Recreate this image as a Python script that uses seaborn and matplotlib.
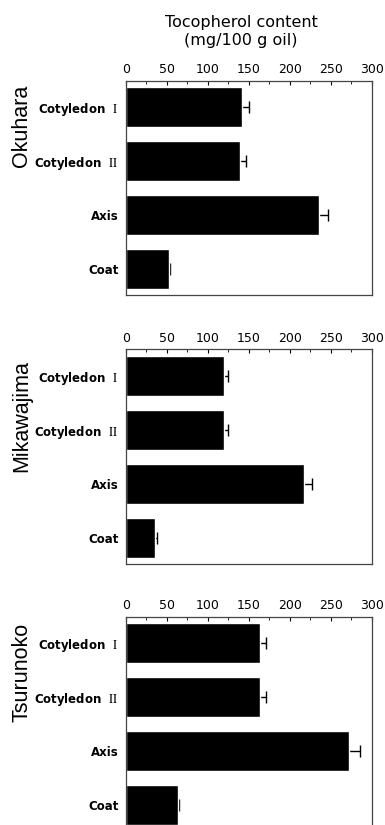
import pandas as pd
import matplotlib
matplotlib.use('Agg')
import matplotlib.pyplot as plt
import seaborn as sns
from matplotlib.ticker import MultipleLocator

# Datos (mg/100 g oil)
varieties = ['Okuhara', 'Mikawajima', 'Tsurunoko']
parts = ['Cotyledon  $\\mathrm{I}$', 'Cotyledon  $\\mathrm{II}$', 'Axis', 'Coat']
okuhara = [142, 139, 235, 52]
okuhara_err = [8, 8, 11, 2]
mikawajima = [120, 120, 217, 36]
mikawajima_err = [5, 5, 10, 2]
tsurunoko = [164, 163, 272, 63]
tsurunoko_err = [7, 8, 14, 2]

values = [okuhara, mikawajima, tsurunoko]
errors = [okuhara_err, mikawajima_err, tsurunoko_err]

sns.set_style('white')
plt.rcParams['font.family'] = ['DejaVu Sans']
plt.rcParams['mathtext.fontset'] = 'stix'
plt.rcParams['text.color'] = 'black'
plt.rcParams['xtick.color'] = 'black'
plt.rcParams['ytick.color'] = 'black'

fig = plt.figure(figsize=(3.85, 8.25), dpi=100)

# posiciones de los paneles (fraccion de figura) y del nombre de la variedad
bottoms = [0.6424, 0.3164, -0.0073]
name_y = [0.848, 0.496, 0.185]
for name, vals, errs, b, ny in zip(varieties, values, errors, bottoms, name_y):
    ax = fig.add_axes([0.327, b, 0.639, 0.26])
    df = pd.DataFrame({'part': parts, 'value': vals})
    sns.barplot(data=df, x='value', y='part', orient='h', color='black',
                width=0.74, saturation=1, ax=ax, zorder=2)
    ax.errorbar(vals, range(len(parts)), xerr=errs, fmt='none',
                ecolor='black', elinewidth=1, capsize=4, capthick=1, zorder=1)
    ax.set_xlim(0, 300)
    ax.set_ylim(3.49, -0.49)
    ax.xaxis.set_major_locator(MultipleLocator(50))
    ax.xaxis.set_minor_locator(MultipleLocator(25))
    ax.xaxis.tick_top()
    ax.tick_params(axis='x', which='major', direction='in', length=3, width=0.8,
                   labelsize=9, pad=3)
    ax.tick_params(axis='x', which='minor', direction='in', length=2, width=0.6)
    ax.set_yticks(range(len(parts)))
    ax.set_yticks([0.5, 1.5, 2.5], minor=True)
    ax.tick_params(axis='y', which='major', direction='out', length=4, width=0.8,
                   labelsize=8.5, pad=1)
    ax.tick_params(axis='y', which='minor', direction='out', length=2, width=0.6)
    for lab in ax.get_yticklabels():
        lab.set_fontweight('semibold')
    ax.set_xlabel('')
    ax.set_ylabel('')
    for sp in ax.spines.values():
        sp.set_visible(True)
        sp.set_color('#444444')
        sp.set_linewidth(0.9)
    fig.text(0.057, ny, name, rotation=90, fontsize=15.5,
             family='Liberation Sans', ha='center', va='center')

fig.text(0.626, 0.962, 'Tocopherol content\n(mg/100 g oil)', ha='center',
         va='center', fontsize=11.5, linespacing=1.2)

plt.savefig('out.png', dpi=100)
